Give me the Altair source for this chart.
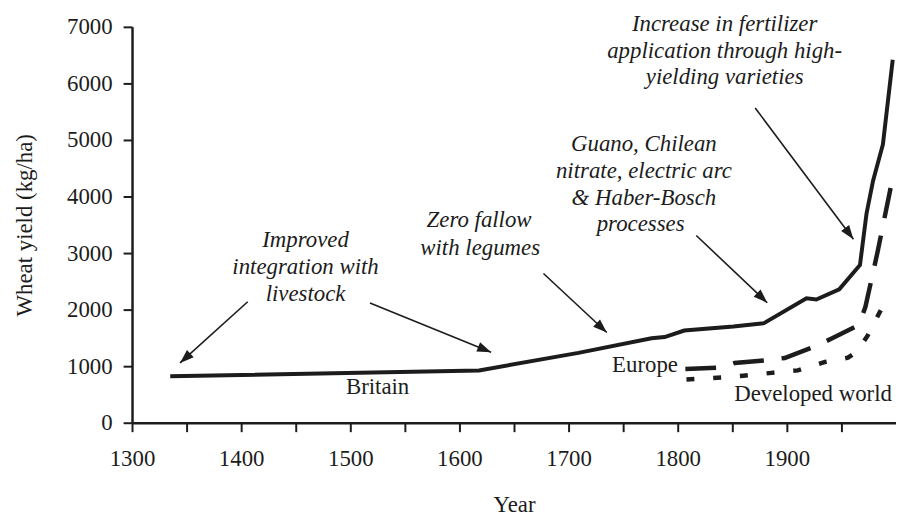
import math
import altair as alt
import pandas as pd

# ---------------- data ----------------
britain_year = [1335, 1618, 1709, 1776, 1788, 1806, 1851, 1879, 1918, 1927, 1948, 1967, 1973, 1979, 1988, 1997]
britain_yield = [820, 925, 1235, 1495, 1515, 1630, 1700, 1760, 2200, 2180, 2360, 2790, 3700, 4280, 4920, 6420]

europe_year = [1807, 1840, 1852, 1882, 1898, 1926, 1942, 1966, 1972, 1983, 1997]
europe_yield = [950, 975, 1055, 1105, 1145, 1350, 1497, 1730, 2050, 3010, 4335]

devworld_year = [1808, 1840, 1860, 1886, 1910, 1935, 1956, 1964, 1974, 1990]
devworld_yield = [765, 800, 832, 882, 925, 1075, 1150, 1255, 1540, 2140]

series_labels = ["Britain", "Europe", "Developed world"]
series_label_year = [1525, 1770, 1924]
series_label_yield = [624, 1028, 501]

note_lines = [
    "Improved", "integration with", "livestock",
    "Zero fallow", "with legumes",
    "Guano, Chilean", "nitrate, electric arc", "& Haber-Bosch", "processes",
    "Increase in fertilizer", "application through high-", "yielding varieties",
]
note_year = [1459, 1459, 1459,
             1618, 1619,
             1769, 1769, 1769, 1766,
             1843, 1843, 1843]
note_yield = [3223, 2749, 2275,
              3575, 3083,
              4927, 4453, 3979, 3505,
              7053, 6579, 6105]

arrow_start_year = [1406, 1518, 1677, 1817, 1871]
arrow_start_yield = [2139, 2117, 2638, 3311, 5565]
arrow_tip_year = [1344, 1629, 1735, 1882, 1961]
arrow_tip_yield = [1057, 1247, 1595, 2122, 3246]

x_ticks = list(range(1300, 2000, 50))
y_ticks = list(range(0, 8000, 1000))

# ---------------- layout ----------------
X_DOMAIN = [1300, 2000]
Y_DOMAIN = [0, 7000]
W, H = 770, 399
INK = "#1c1c1c"
FONT = "Liberation Serif"
FS = 23

px_x = W / (X_DOMAIN[1] - X_DOMAIN[0])
px_y = H / (Y_DOMAIN[1] - Y_DOMAIN[0])

x_scale = alt.Scale(domain=X_DOMAIN, nice=False, zero=False)
y_scale = alt.Scale(domain=Y_DOMAIN, nice=False)

def series_df(years, yields):
    return pd.DataFrame({"year": years, "yield": yields})

x_enc = alt.X(
    "year:Q", scale=x_scale,
    axis=alt.Axis(
        values=x_ticks, format="d",
        labelExpr="datum.value % 100 == 0 ? datum.label : ''",
        title="Year", grid=False, tickSize=9, tickWidth=2, domainWidth=2.5,
        labelPadding=16, titlePadding=23, labelFlush=False,
    ),
)
y_enc = alt.Y(
    "yield:Q", scale=y_scale,
    axis=alt.Axis(
        values=y_ticks, format="d", title="Wheat yield (kg/ha)", grid=False,
        tickSize=9, tickWidth=2, domainWidth=2.5, labelPadding=11, titlePadding=30,
    ),
)

britain = alt.Chart(series_df(britain_year, britain_yield)).mark_line(
    color=INK, strokeWidth=4, strokeJoin="miter"
).encode(x=x_enc, y=y_enc, order="year:Q")

europe = alt.Chart(series_df(europe_year, europe_yield)).mark_line(
    color=INK, strokeWidth=4.5, strokeDash=[31, 18]
).encode(x="year:Q", y="yield:Q", order="year:Q")

devworld = alt.Chart(series_df(devworld_year, devworld_yield)).mark_line(
    color=INK, strokeWidth=4.5, strokeDash=[8, 19]
).encode(x="year:Q", y="yield:Q", order="year:Q")

labels = alt.Chart(pd.DataFrame({
    "t": series_labels, "year": series_label_year, "yield": series_label_yield
})).mark_text(font=FONT, fontSize=FS, color=INK, align="center", baseline="middle").encode(
    x="year:Q", y="yield:Q", text="t:N"
)

notes = alt.Chart(pd.DataFrame({
    "t": note_lines, "year": note_year, "yield": note_yield
})).mark_text(font=FONT, fontSize=FS, fontStyle="italic", color=INK,
              align="center", baseline="middle").encode(
    x="year:Q", y="yield:Q", text="t:N"
)

angles = []
for xs, ys, xt, yt in zip(arrow_start_year, arrow_start_yield, arrow_tip_year, arrow_tip_yield):
    dx = (xt - xs) * px_x
    dy = -(yt - ys) * px_y
    angles.append(math.degrees(math.atan2(dx, -dy)) % 360)

arrows_df = pd.DataFrame({
    "year": arrow_start_year, "yield": arrow_start_yield,
    "year2": arrow_tip_year, "yield2": arrow_tip_yield, "ang": angles,
})

arrow_lines = alt.Chart(arrows_df).mark_rule(color=INK, strokeWidth=1.6).encode(
    x="year:Q", y="yield:Q", x2="year2:Q", y2="yield2:Q"
)

arrow_heads = alt.Chart(arrows_df).mark_point(
    shape="M0,0L-0.36,1L0.36,1Z", filled=True, color=INK, opacity=1, size=784
).encode(
    x="year2:Q", y="yield2:Q", angle=alt.Angle("ang:Q", scale=None)
)

chart = alt.layer(
    britain, europe, devworld, labels, notes, arrow_lines, arrow_heads
).properties(
    width=W, height=H,
    padding={"left": 125, "top": 17, "right": 0, "bottom": 92},
    autosize=alt.AutoSizeParams(type="none"),
    background="white",
).configure(font=FONT).configure_view(stroke=None).configure_axis(
    labelFont=FONT, titleFont=FONT, labelFontSize=FS, titleFontSize=FS,
    titleFontWeight="normal", labelColor=INK, titleColor=INK,
    domainColor=INK, tickColor=INK,
)

chart.save("out.html", embed_options={"renderer": "svg", "actions": False})
